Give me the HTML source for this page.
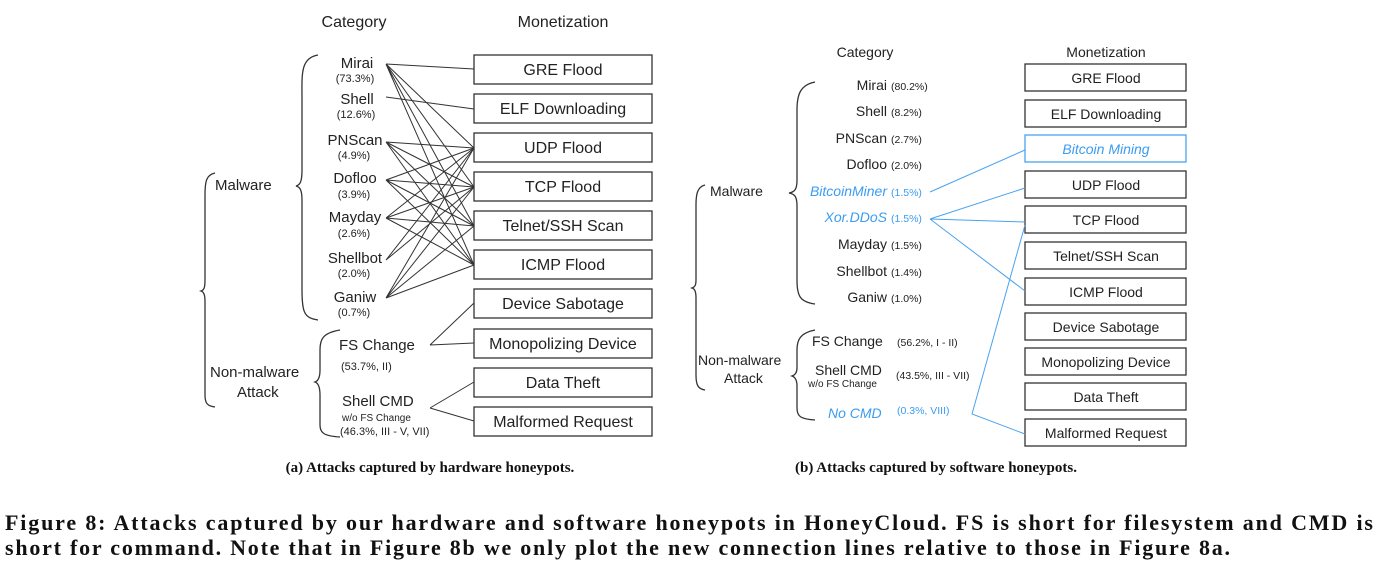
<!DOCTYPE html>
<html><head><meta charset="utf-8"><style>
html,body{margin:0;padding:0;background:#fff;width:1379px;height:575px;overflow:hidden}
svg text{font-family:"Liberation Sans",sans-serif;fill:#222}
svg text.s{font-family:"Liberation Serif",serif;font-weight:bold;fill:#111}
</style></head><body>
<svg width="1379" height="575" viewBox="0 0 1379 575" xmlns="http://www.w3.org/2000/svg">
<g fill="none" stroke="#333" stroke-width="1.3">
<rect x="474" y="55" width="178" height="29"/>
<rect x="474" y="94" width="178" height="29"/>
<rect x="474" y="133" width="178" height="29"/>
<rect x="474" y="172" width="178" height="29"/>
<rect x="474" y="211" width="178" height="29"/>
<rect x="474" y="250" width="178" height="29"/>
<rect x="474" y="289" width="178" height="29"/>
<rect x="474" y="329" width="178" height="29"/>
<rect x="474" y="368" width="178" height="29"/>
<rect x="474" y="407" width="178" height="29"/>
<path d="M318,55 C300,58 302,75 302,100 L302,170 C302,182 300,185 296,186 C300,187 302,190 302,200 L302,290 C302,312 304,318 318,320"/>
<path d="M215,173 C206,175 205,182 205,195 L205,280 C205,288 204,290 201,291 C204,292 205,295 205,302 L205,395 C205,403 207,406 215,407"/>
<path d="M340,330 C322,333 320,340 320,350 L320,370 C320,378 318,381 315,382 C318,383 320,386 320,395 L320,425 C320,433 324,436 340,437"/>
<g stroke-width="1">
<path d="M386,64 L474,69 M386,64 L474,148 M386,64 L474,187 M386,64 L474,226 M386,64 L474,265"/>
<path d="M386,97 L474,109"/>
<path d="M386,142 L474,148 M386,142 L474,187 M386,142 L474,226 M386,142 L474,265"/>
<path d="M386,180 L474,148 M386,180 L474,187 M386,180 L474,226 M386,180 L474,265"/>
<path d="M386,218 L474,148 M386,218 L474,187 M386,218 L474,226 M386,218 L474,265"/>
<path d="M386,260 L474,148 M386,260 L474,187"/>
<path d="M386,298 L474,148 M386,298 L474,187 M386,298 L474,226 M386,298 L474,265"/>
<path d="M430,345 L474,303 M430,345 L474,343"/>
<path d="M430,408 L474,382 M430,408 L474,421"/>
</g>
<rect x="1025" y="64" width="161" height="27"/>
<rect x="1025" y="100" width="161" height="27"/>
<rect x="1025" y="135" width="161" height="27" stroke="#4aa3f0"/>
<rect x="1025" y="171" width="161" height="27"/>
<rect x="1025" y="206" width="161" height="27"/>
<rect x="1025" y="242" width="161" height="27"/>
<rect x="1025" y="278" width="161" height="27"/>
<rect x="1025" y="313" width="161" height="27"/>
<rect x="1025" y="348" width="161" height="27"/>
<rect x="1025" y="383" width="161" height="27"/>
<rect x="1025" y="419" width="161" height="27"/>
<path d="M815,82 C800,85 797,95 797,110 L797,180 C797,189 795,192 789,193 C795,194 797,197 797,206 L797,280 C797,296 800,302 815,304"/>
<path d="M705,185 C697,187 696,195 696,205 L696,280 C696,285 695,287 692,288 C695,289 696,292 696,298 L696,375 C696,385 698,389 705,390"/>
<path d="M815,330 C800,333 797,340 797,350 L797,368 C797,373 795,375 792,376 C795,377 797,380 797,386 L797,408 C797,416 800,419 815,420"/>
<g stroke="#4aa3f0" stroke-width="1">
<path d="M930,192 L1025,150"/>
<path d="M930,219 L1025,188 M930,219 L1025,222 M930,219 L1025,291"/>
<path d="M1025,225 L972,414 L1025,434"/>
</g>
</g>
<text x="354" y="27" font-size="16" text-anchor="middle">Category</text>
<text x="563" y="27" font-size="16" text-anchor="middle">Monetization</text>
<g font-size="15" text-anchor="middle">
<text x="357" y="68">Mirai</text>
<text x="357" y="104">Shell</text>
<text x="355" y="145">PNScan</text>
<text x="355" y="183">Dofloo</text>
<text x="355" y="222">Mayday</text>
<text x="355" y="263">Shellbot</text>
<text x="355" y="302">Ganiw</text>
</g>
<g font-size="11" text-anchor="middle">
<text x="355" y="82">(73.3%)</text>
<text x="356" y="118">(12.6%)</text>
<text x="354" y="159">(4.9%)</text>
<text x="354" y="198">(3.9%)</text>
<text x="354" y="237">(2.6%)</text>
<text x="354" y="277">(2.0%)</text>
<text x="354" y="316">(0.7%)</text>
</g>
<g font-size="15">
<text x="215" y="190">Malware</text>
<text x="210" y="377">Non-malware</text>
<text x="237" y="397">Attack</text>
<text x="339" y="350">FS Change</text>
<text x="342" y="406">Shell CMD</text>
</g>
<text x="341" y="370" font-size="11">(53.7%, II)</text>
<text x="342" y="421" font-size="10">w/o FS Change</text>
<text x="340" y="435" font-size="11">(46.3%, III - V, VII)</text>
<g font-size="16" text-anchor="middle">
<text x="563" y="75">GRE Flood</text>
<text x="563" y="114">ELF Downloading</text>
<text x="563" y="153">UDP Flood</text>
<text x="563" y="192">TCP Flood</text>
<text x="563" y="231">Telnet/SSH Scan</text>
<text x="563" y="270">ICMP Flood</text>
<text x="563" y="309">Device Sabotage</text>
<text x="563" y="349">Monopolizing Device</text>
<text x="563" y="388">Data Theft</text>
<text x="563" y="427">Malformed Request</text>
</g>
<text x="865" y="57" font-size="14" text-anchor="middle">Category</text>
<text x="1106" y="57" font-size="14" text-anchor="middle">Monetization</text>
<g font-size="14" text-anchor="end">
<text x="887" y="90">Mirai</text>
<text x="887" y="116">Shell</text>
<text x="887" y="143">PNScan</text>
<text x="887" y="169">Dofloo</text>
<text x="887" y="196" style="fill:#3b9cf0;font-style:italic">BitcoinMiner</text>
<text x="887" y="222" style="fill:#3b9cf0;font-style:italic">Xor.DDoS</text>
<text x="887" y="249">Mayday</text>
<text x="887" y="276">Shellbot</text>
<text x="887" y="302">Ganiw</text>
</g>
<g font-size="10.5">
<text x="891" y="90">(80.2%)</text>
<text x="891" y="116">(8.2%)</text>
<text x="891" y="143">(2.7%)</text>
<text x="891" y="169">(2.0%)</text>
<text x="891" y="196" style="fill:#3b9cf0">(1.5%)</text>
<text x="891" y="222" style="fill:#3b9cf0">(1.5%)</text>
<text x="891" y="249">(1.5%)</text>
<text x="891" y="276">(1.4%)</text>
<text x="891" y="302">(1.0%)</text>
<text x="897" y="346">(56.2%, I - II)</text>
<text x="896" y="379">(43.5%, III - VII)</text>
<text x="897" y="414" style="fill:#3b9cf0">(0.3%, VIII)</text>
</g>
<g font-size="14">
<text x="710" y="196">Malware</text>
<text x="698" y="365">Non-malware</text>
<text x="724" y="383">Attack</text>
<text x="812" y="346">FS Change</text>
<text x="815" y="375">Shell CMD</text>
<text x="828" y="418" style="fill:#3b9cf0;font-style:italic">No CMD</text>
</g>
<text x="808" y="387" font-size="10">w/o FS Change</text>
<g font-size="14" text-anchor="middle">
<text x="1106" y="83">GRE Flood</text>
<text x="1106" y="119">ELF Downloading</text>
<text x="1106" y="154" style="fill:#3b9cf0;font-style:italic">Bitcoin Mining</text>
<text x="1106" y="190">UDP Flood</text>
<text x="1106" y="225">TCP Flood</text>
<text x="1106" y="261">Telnet/SSH Scan</text>
<text x="1106" y="297">ICMP Flood</text>
<text x="1106" y="332">Device Sabotage</text>
<text x="1106" y="367">Monopolizing Device</text>
<text x="1106" y="402">Data Theft</text>
<text x="1106" y="438">Malformed Request</text>
</g>
<text class="s" x="430" y="472" font-size="15" text-anchor="middle">(a) Attacks captured by hardware honeypots.</text>
<text class="s" x="936" y="472" font-size="15" text-anchor="middle">(b) Attacks captured by software honeypots.</text>
<text class="s" x="5" y="530" font-size="22" textLength="1368" lengthAdjust="spacing">Figure 8: Attacks captured by our hardware and software honeypots in HoneyCloud. FS is short for filesystem and CMD is</text>
<text class="s" x="5" y="555" font-size="22" textLength="1225" lengthAdjust="spacing">short for command. Note that in Figure 8b we only plot the new connection lines relative to those in Figure 8a.</text>
</svg>
</body></html>
